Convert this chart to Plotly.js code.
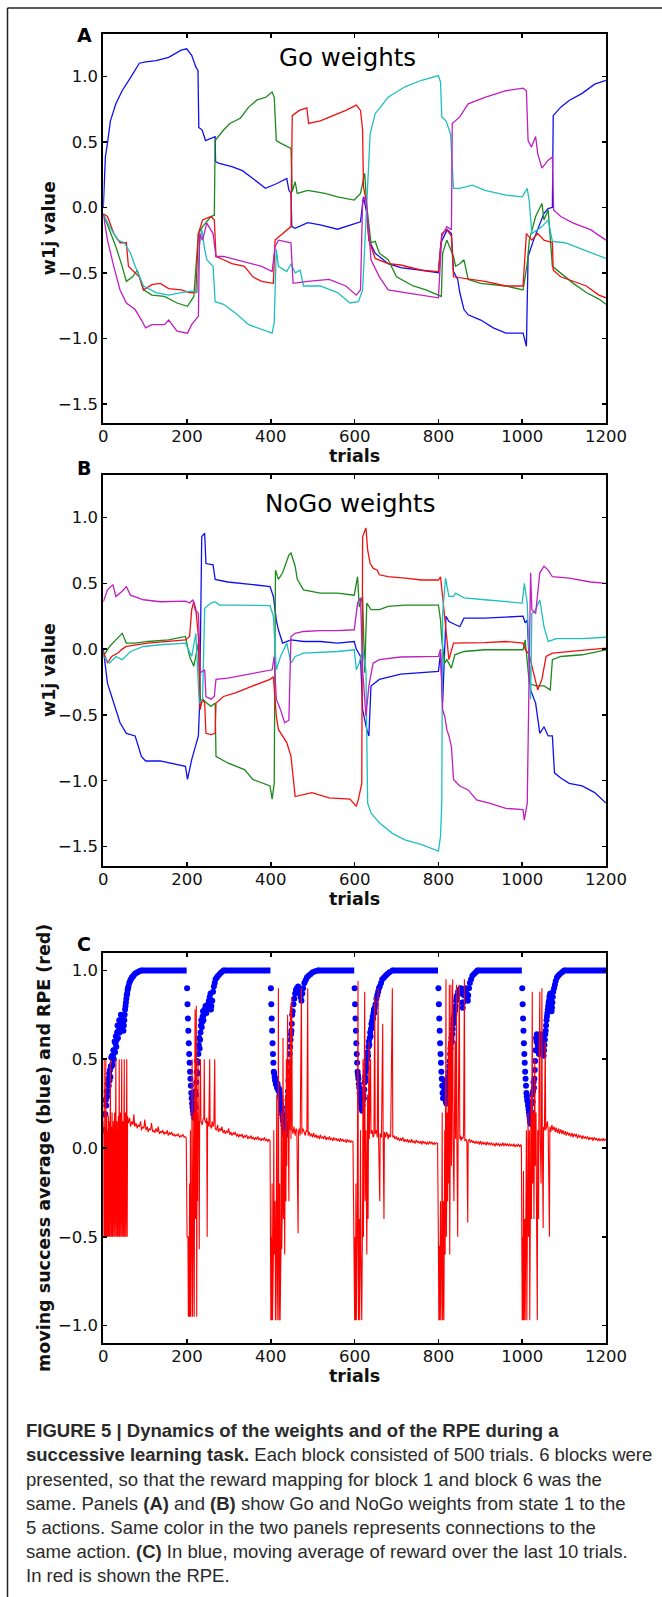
<!DOCTYPE html>
<html><head><meta charset="utf-8">
<script src="https://cdn.plot.ly/plotly-3.0.1.min.js"></script>
<style>html,body{margin:0;padding:0;background:#fff;} #chart{width:662px;height:1597px;}</style>
</head><body><div id="chart"></div>
<script>
// ---------- tick labels ----------
const trialTicks = [0, 200, 400, 600, 800, 1000, 1200];
const trialTickText = ['0', '200', '400', '600', '800', '1000', '1200'];
const weightTicks = [-1.5, -1, -0.5, 0, 0.5, 1];
const weightTickText = ['−1.5', '−1.0', '−0.5', '0.0', '0.5', '1.0'];
const rpeTicks = [-1, -0.5, 0, 0.5, 1];
const rpeTickText = ['−1.0', '−0.5', '0.0', '0.5', '1.0'];

// ---------- panel A : Go weights (trial, value) ----------
const goBlue = [[0,0],[5,0.385],[10,0.49],[17,0.66],[30,0.79],[45,0.89],[65,0.99],[86,1.10],[101,1.11],[126,1.12],[156,1.145],[186,1.20],[199,1.21],[211,1.16],[221,1.07],[226,1.045],[228,0.61],[236,0.59],[244,0.51],[267,0.54],[268,0.35],[277,0.335],[307,0.31],[332,0.28],[357,0.22],[387,0.145],[413,0.18],[438,0.22],[443,0.13],[448,0.11],[450,-0.147],[458,-0.16],[488,-0.117],[518,-0.134],[559,-0.167],[589,-0.134],[614,-0.11],[621,0.08],[629,-0.046],[634,-0.25],[649,-0.35],[680,-0.43],[710,-0.46],[760,-0.48],[800,-0.50],[806,-0.27],[821,-0.17],[831,-0.2],[836,-0.49],[846,-0.55],[851,-0.65],[861,-0.78],[871,-0.82],[901,-0.86],[931,-0.92],[961,-0.96],[1002,-0.96],[1010,-1.06],[1014,-0.375],[1027,-0.25],[1052,-0.046],[1062,-0.01],[1072,0.0],[1074,0.70],[1092,0.765],[1112,0.816],[1143,0.87],[1173,0.94],[1200,0.97]];
const goGreen = [[0,-0.05],[15,-0.17],[30,-0.30],[45,-0.45],[55,-0.565],[70,-0.53],[81,-0.48],[96,-0.63],[116,-0.67],[146,-0.68],[176,-0.73],[201,-0.755],[216,-0.68],[227,-0.2],[237,-0.147],[257,-0.07],[265,-0.06],[267,0.51],[287,0.59],[302,0.64],[327,0.68],[347,0.765],[367,0.82],[388,0.84],[403,0.88],[408,0.84],[413,0.51],[423,0.49],[448,0.45],[451,0.12],[458,0.195],[463,0.106],[488,0.13],[529,0.106],[559,0.08],[599,0.056],[614,0.106],[624,0.26],[629,0.005],[639,-0.27],[649,-0.26],[659,-0.35],[680,-0.40],[700,-0.53],[740,-0.60],[770,-0.63],[800,-0.67],[807,-0.68],[810,-0.35],[820,-0.25],[836,-0.375],[841,-0.45],[851,-0.43],[861,-0.40],[871,-0.55],[901,-0.58],[961,-0.60],[1002,-0.63],[1012,-0.43],[1017,-0.25],[1032,-0.07],[1047,0.03],[1052,-0.096],[1062,-0.02],[1072,-0.45],[1092,-0.50],[1122,-0.58],[1153,-0.65],[1183,-0.70],[1200,-0.74]];
const goRed = [[0,-0.05],[10,-0.07],[25,-0.2],[40,-0.27],[55,-0.27],[60,-0.45],[76,-0.50],[86,-0.53],[96,-0.63],[116,-0.59],[136,-0.58],[156,-0.62],[186,-0.63],[206,-0.65],[221,-0.65],[227,-0.2],[237,-0.096],[257,-0.07],[265,-0.096],[269,-0.375],[287,-0.40],[307,-0.43],[337,-0.45],[357,-0.53],[378,-0.565],[406,-0.58],[410,-0.25],[428,-0.2],[448,-0.147],[451,0.70],[468,0.74],[486,0.76],[490,0.64],[518,0.66],[549,0.70],[579,0.74],[604,0.78],[614,0.74],[619,0.59],[621,0.16],[627,0.056],[634,-0.25],[649,-0.39],[680,-0.43],[710,-0.44],[760,-0.48],[800,-0.49],[808,-0.2],[820,-0.17],[831,-0.22],[836,-0.53],[861,-0.54],[911,-0.565],[961,-0.60],[1002,-0.60],[1010,-0.2],[1023,-0.25],[1037,-0.2],[1052,-0.25],[1072,-0.27],[1074,-0.48],[1092,-0.53],[1122,-0.565],[1153,-0.60],[1183,-0.67],[1200,-0.69]];
const goCyan = [[0,-0.05],[15,-0.147],[35,-0.25],[50,-0.27],[65,-0.35],[76,-0.45],[96,-0.60],[126,-0.65],[156,-0.67],[186,-0.65],[211,-0.64],[224,-0.65],[229,-0.3],[235,-0.17],[242,-0.32],[247,-0.40],[262,-0.45],[267,-0.72],[287,-0.74],[317,-0.81],[347,-0.895],[378,-0.93],[403,-0.96],[408,-0.88],[413,-0.32],[418,-0.45],[438,-0.49],[448,-0.43],[458,-0.50],[470,-0.48],[478,-0.60],[518,-0.60],[559,-0.65],[589,-0.73],[609,-0.72],[619,-0.63],[629,0.005],[637,0.56],[649,0.715],[680,0.84],[720,0.92],[760,0.97],[800,1.006],[805,0.955],[808,0.69],[818,0.66],[829,0.56],[831,0.46],[836,0.145],[851,0.145],[881,0.17],[911,0.13],[961,0.094],[1000,0.08],[1012,0.145],[1017,0.043],[1023,-0.2],[1037,-0.17],[1047,-0.147],[1062,-0.096],[1072,-0.26],[1102,-0.27],[1143,-0.32],[1173,-0.36],[1200,-0.39]];
const goMagenta = [[0,-0.05],[10,-0.25],[25,-0.45],[40,-0.63],[55,-0.73],[76,-0.78],[91,-0.86],[101,-0.92],[116,-0.895],[146,-0.895],[156,-0.86],[176,-0.945],[201,-0.96],[211,-0.895],[227,-0.83],[230,-0.2],[237,-0.25],[247,-0.12],[262,-0.2],[269,-0.375],[287,-0.375],[317,-0.40],[347,-0.43],[378,-0.45],[403,-0.49],[410,-0.3],[418,-0.25],[448,-0.27],[453,-0.58],[488,-0.565],[539,-0.55],[579,-0.60],[604,-0.67],[614,-0.63],[619,0.056],[627,0.08],[631,-0.07],[639,-0.40],[659,-0.53],[680,-0.63],[720,-0.65],[760,-0.67],[800,-0.69],[808,-0.22],[820,-0.147],[831,-0.17],[833,0.64],[851,0.69],[871,0.79],[911,0.84],[961,0.89],[1002,0.91],[1010,0.89],[1014,0.51],[1022,0.46],[1032,0.54],[1037,0.41],[1047,0.30],[1062,0.36],[1072,0.385],[1075,-0.02],[1092,-0.07],[1122,-0.12],[1163,-0.17],[1200,-0.25]];

// ---------- panel B : NoGo weights ----------
const nogoBlue = [[0,0],[10,-0.26],[25,-0.41],[40,-0.56],[55,-0.64],[76,-0.66],[91,-0.815],[101,-0.85],[136,-0.85],[176,-0.88],[196,-0.89],[201,-0.99],[211,-0.84],[227,-0.66],[230,-0.41],[235,0.855],[242,0.88],[245,0.65],[262,0.64],[267,0.53],[297,0.51],[357,0.49],[398,0.475],[406,0.40],[413,0.22],[418,0.147],[428,0.046],[448,0.07],[478,0.058],[518,0.058],[559,0.046],[599,0.058],[604,0],[614,-0.056],[619,-0.46],[629,-0.61],[634,-0.66],[639,-0.28],[659,-0.23],[710,-0.19],[760,-0.18],[800,-0.17],[805,-0.03],[810,-0.41],[818,0.25],[825,0.21],[851,0.17],[861,0.235],[911,0.235],[1002,0.25],[1007,0.2],[1012,0.22],[1020,-0.31],[1032,-0.41],[1042,-0.64],[1052,-0.59],[1062,-0.66],[1072,-0.66],[1077,-0.94],[1092,-0.98],[1112,-1.02],[1143,-1.04],[1173,-1.09],[1200,-1.17]];
const nogoGreen = [[0,-0.056],[15,0.02],[30,0.07],[45,0.12],[55,0.046],[76,0.046],[106,0.058],[156,0.07],[196,0.096],[206,-0.056],[216,-0.13],[227,0.046],[232,-0.41],[237,-0.38],[247,-0.41],[257,-0.435],[267,-0.41],[269,-0.815],[297,-0.865],[337,-0.915],[357,-0.99],[398,-1.04],[403,-1.14],[408,-1.02],[411,0.60],[418,0.53],[428,0.58],[443,0.715],[448,0.73],[458,0.63],[463,0.53],[478,0.45],[518,0.425],[559,0.425],[599,0.41],[607,0.55],[611,0.32],[619,0.40],[624,-0.18],[629,0.35],[639,0.30],[659,0.30],[680,0.325],[720,0.335],[760,0.335],[800,0.335],[805,0.22],[808,0.07],[815,-0.106],[820,-0.08],[831,-0.144],[839,-0.043],[861,-0.018],[911,-0.005],[1002,-0.005],[1007,0.07],[1017,-0.26],[1032,-0.28],[1052,-0.28],[1067,-0.31],[1072,-0.08],[1092,-0.056],[1143,-0.043],[1200,-0.005]];
const nogoRed = [[0,-0.018],[10,-0.106],[20,-0.056],[35,-0.03],[45,0],[55,0.02],[106,0.046],[156,0.058],[196,0.07],[206,0.096],[211,0.30],[216,0.36],[221,0.30],[227,0.096],[231,-0.46],[237,-0.38],[242,-0.41],[245,-0.64],[257,-0.65],[267,-0.64],[269,-0.41],[287,-0.36],[317,-0.33],[357,-0.28],[398,-0.23],[406,-0.21],[408,-0.31],[413,-0.51],[418,-0.61],[428,-0.66],[438,-0.71],[448,-0.815],[453,-0.97],[458,-1.12],[498,-1.09],[539,-1.13],[589,-1.14],[604,-1.195],[609,-1.14],[617,-1.02],[619,0.855],[627,0.92],[631,0.755],[637,0.65],[644,0.615],[654,0.60],[659,0.565],[680,0.55],[720,0.54],[760,0.525],[800,0.525],[805,0.55],[810,0.40],[818,0.147],[825,-0.08],[836,0.046],[861,0.046],[911,0.05],[961,0.058],[1002,0.046],[1007,0],[1017,-0.043],[1027,-0.18],[1037,-0.31],[1047,-0.23],[1057,-0.056],[1072,-0.03],[1112,-0.018],[1200,0.008]];
const nogoCyan = [[0,-0.056],[15,-0.106],[30,-0.056],[45,-0.08],[65,-0.018],[96,0.02],[136,0.033],[196,0.046],[211,-0.056],[221,0.12],[229,-0.41],[237,-0.38],[242,0.31],[257,0.35],[267,0.36],[277,0.335],[317,0.335],[398,0.33],[406,0.25],[413,-0.157],[423,-0.056],[438,0.046],[448,-0.106],[458,-0.056],[478,-0.03],[518,-0.025],[559,-0.018],[599,-0.005],[604,-0.157],[611,-0.106],[619,-0.005],[627,-0.157],[631,-1.17],[639,-1.245],[659,-1.32],[690,-1.40],[720,-1.45],[760,-1.485],[800,-1.535],[805,-1.42],[808,-1.17],[810,0.27],[817,0.54],[825,0.40],[836,0.40],[841,0.425],[861,0.39],[911,0.375],[961,0.36],[1000,0.35],[1005,0.50],[1012,0.35],[1020,-0.38],[1023,0.27],[1032,0.30],[1042,0.375],[1052,0.17],[1062,0.058],[1082,0.08],[1143,0.08],[1200,0.09]];
const nogoMagenta = [[0,0.36],[10,0.45],[23,0.49],[30,0.40],[45,0.44],[55,0.475],[65,0.41],[96,0.375],[136,0.36],[196,0.365],[206,0.35],[214,0.375],[219,0.30],[227,0.27],[232,-0.18],[242,-0.157],[245,-0.36],[257,-0.38],[265,-0.36],[269,-0.23],[297,-0.22],[337,-0.195],[378,-0.17],[403,-0.157],[408,-0.056],[413,-0.38],[423,-0.46],[433,-0.56],[443,-0.54],[448,0.096],[458,0.12],[478,0.134],[518,0.14],[559,0.14],[599,0.147],[607,0.35],[614,0.39],[619,-0.157],[627,-0.51],[634,-0.28],[644,-0.106],[659,-0.08],[710,-0.06],[760,-0.056],[800,-0.056],[805,0],[810,-0.46],[815,-0.51],[820,-0.61],[825,-0.66],[831,-0.74],[836,-0.99],[851,-1.04],[871,-1.07],[891,-1.145],[921,-1.17],[961,-1.21],[1002,-1.22],[1005,-1.30],[1012,-1.17],[1017,0.096],[1020,0.58],[1023,0.30],[1032,0.27],[1042,0.58],[1052,0.63],[1062,0.60],[1072,0.55],[1112,0.54],[1163,0.51],[1200,0.50]];

// ---------- panel C : moving success average (blue dots) ----------
const successDrops = [
 [200,0.90],[201,0.81],[202,0.73],[203,0.66],[204,0.59],[205,0.53],[206,0.48],[207,0.43],[208,0.39],[209,0.35],[210,0.31],[211,0.28],[212,0.25],[213,0.23],[214,0.21],[215,0.19],
 [400,0.90],[401,0.81],[402,0.73],[403,0.66],[404,0.59],[405,0.53],[406,0.48],[407,0.43],
 [600,0.90],[601,0.81],[602,0.73],[603,0.66],[604,0.59],[605,0.53],[606,0.48],[607,0.43],
 [800,0.90],[801,0.81],[802,0.73],[803,0.66],[804,0.59],[805,0.53],[806,0.48],[807,0.43],[808,0.39],[809,0.35],[810,0.31],
 [1000,0.90],[1001,0.81],[1002,0.73],[1003,0.66],[1004,0.59],[1005,0.53],[1006,0.48],[1007,0.43],[1008,0.39],[1009,0.35],[1010,0.31]
];
const successRise1 = [[0,0.10],[1,0.19],[2,0.10],[3,0.19],[4,0.27],[5,0.19],[6,0.27],[7,0.24],[8,0.32],[9,0.29],[10,0.36],[11,0.32],[12,0.39],[13,0.35],[14,0.42],[15,0.38],[16,0.44],[17,0.40],[18,0.46],[19,0.51],[20,0.46],[21,0.52],[22,0.47],[23,0.52],[24,0.55],[25,0.50],[26,0.55],[27,0.60],[28,0.54],[29,0.59],[30,0.63],[31,0.57],[32,0.61],[33,0.65],[34,0.69],[35,0.62],[36,0.66],[37,0.69],[38,0.72],[39,0.65],[40,0.69],[41,0.72],[42,0.75],[43,0.68],[44,0.71],[45,0.74],[46,0.70],[47,0.73],[48,0.66],[49,0.69],[50,0.72],[51,0.75],[52,0.78],[53,0.80],[54,0.82],[55,0.84],[56,0.86],[57,0.87],[58,0.89],[59,0.90],[60,0.91],[62,0.93],[64,0.94],[66,0.95],[68,0.96],[70,0.965],[72,0.97],[75,0.98],[78,0.985],[82,0.99],[86,0.995],[90,1.0]];
const successRise2 = [[216,0.19],[217,0.17],[218,0.25],[219,0.32],[220,0.23],[221,0.30],[222,0.37],[223,0.43],[224,0.49],[225,0.42],[226,0.48],[227,0.53],[228,0.58],[229,0.62],[230,0.56],[231,0.61],[232,0.65],[233,0.69],[234,0.72],[235,0.68],[236,0.71],[237,0.74],[238,0.77],[239,0.72],[240,0.75],[242,0.78],[244,0.80],[246,0.76],[248,0.79],[250,0.81],[252,0.83],[254,0.85],[256,0.87],[257,0.78],[258,0.80],[260,0.83],[262,0.88],[264,0.91],[266,0.93],[268,0.95],[271,0.96],[274,0.97],[278,0.98],[282,0.99],[287,1.0]];
const successRise3 = [[408,0.42],[409,0.40],[410,0.38],[411,0.39],[412,0.36],[413,0.37],[414,0.35],[415,0.34],[416,0.36],[417,0.33],[418,0.34],[419,0.32],[420,0.33],[421,0.31],[422,0.29],[423,0.27],[424,0.25],[425,0.23],[426,0.21],[427,0.19],[428,0.17],[429,0.15],[430,0.13],[431,0.11],[432,0.10],[433,0.08],[434,0.07],[435,0.10],[436,0.12],[437,0.14],[438,0.18],[439,0.23],[440,0.27],[441,0.32],[442,0.38],[443,0.43],[444,0.48],[445,0.53],[446,0.57],[447,0.61],[448,0.64],[449,0.66],[450,0.70],[451,0.75],[452,0.77],[454,0.81],[456,0.84],[458,0.87],[460,0.89],[462,0.90],[465,0.91],[467,0.89],[469,0.87],[471,0.85],[473,0.83],[475,0.87],[477,0.90],[480,0.93],[483,0.945],[486,0.96],[490,0.97],[495,0.98],[500,0.99],[506,0.995],[512,1.0]];
const successRise4 = [[608,0.41],[609,0.39],[610,0.36],[611,0.34],[612,0.31],[613,0.29],[614,0.27],[615,0.25],[616,0.23],[617,0.22],[618,0.21],[619,0.24],[620,0.27],[621,0.30],[622,0.28],[623,0.33],[624,0.37],[625,0.40],[626,0.38],[627,0.43],[628,0.47],[629,0.45],[630,0.50],[631,0.54],[632,0.52],[633,0.57],[634,0.60],[635,0.58],[636,0.62],[637,0.65],[638,0.63],[639,0.67],[640,0.70],[641,0.68],[642,0.72],[643,0.74],[644,0.73],[645,0.76],[646,0.78],[647,0.76],[648,0.79],[650,0.81],[652,0.84],[654,0.86],[656,0.88],[658,0.90],[660,0.91],[663,0.93],[666,0.95],[670,0.96],[674,0.97],[678,0.98],[683,0.99],[690,1.0]];
const successRise5 = [[811,0.28],[812,0.35],[813,0.32],[814,0.38],[815,0.34],[816,0.31],[817,0.28],[818,0.26],[819,0.25],[820,0.30],[821,0.33],[822,0.36],[823,0.40],[824,0.38],[825,0.43],[826,0.46],[827,0.49],[828,0.53],[829,0.56],[830,0.59],[831,0.62],[832,0.60],[833,0.64],[834,0.67],[835,0.70],[836,0.73],[837,0.72],[838,0.75],[839,0.77],[840,0.78],[841,0.80],[842,0.83],[843,0.85],[845,0.86],[847,0.88],[849,0.89],[851,0.89],[853,0.90],[855,0.87],[857,0.82],[858,0.79],[859,0.82],[861,0.86],[863,0.89],[865,0.90],[867,0.87],[869,0.84],[870,0.83],[871,0.86],[873,0.90],[875,0.93],[878,0.95],[881,0.97],[885,0.98],[889,0.99],[893,1.0]];
const successRise6 = [[1011,0.29],[1012,0.27],[1013,0.26],[1014,0.24],[1015,0.22],[1016,0.20],[1017,0.18],[1018,0.16],[1019,0.145],[1020,0.14],[1021,0.135],[1022,0.20],[1023,0.25],[1024,0.30],[1025,0.26],[1026,0.32],[1027,0.37],[1028,0.34],[1029,0.39],[1030,0.44],[1031,0.49],[1032,0.55],[1033,0.62],[1034,0.60],[1035,0.64],[1036,0.62],[1037,0.58],[1038,0.56],[1039,0.54],[1040,0.53],[1041,0.55],[1042,0.58],[1043,0.61],[1044,0.64],[1045,0.62],[1046,0.60],[1047,0.59],[1048,0.58],[1049,0.55],[1050,0.53],[1051,0.52],[1052,0.55],[1053,0.58],[1054,0.61],[1055,0.64],[1056,0.66],[1057,0.69],[1058,0.72],[1059,0.74],[1060,0.76],[1061,0.78],[1062,0.80],[1063,0.82],[1064,0.83],[1065,0.85],[1066,0.86],[1067,0.87],[1068,0.84],[1069,0.80],[1070,0.77],[1071,0.79],[1072,0.82],[1073,0.85],[1074,0.88],[1076,0.90],[1078,0.92],[1080,0.94],[1083,0.96],[1086,0.97],[1090,0.98],[1095,0.99],[1100,1.0]];
// stretches where the moving average stays at 1.0 : [first trial, last trial]
const successPlateaus = [[90,199],[287,399],[512,599],[690,799],[893,999],[1100,1200]];

// ---------- panel C : RPE (red) ----------
const rpeBlock1 = [[0,0.15],[1,-0.5],[2,0.5],[3,-0.5],[4,0.12],[5,-0.5],[6,0.5],[7,-0.5],[8,0.2],[9,-0.5],[10,0.1],[11,-0.5],[12,0.18],[13,-0.5],[14,0.15],[15,-0.5],[17,0.5],[18,-0.5],[19,0.12],[20,-0.5],[21,0.2],[22,-0.5],[24,0.15],[25,-0.5],[27,0.2],[28,-0.5],[30,0.5],[31,-0.5],[33,0.15],[34,-0.5],[36,0.18],[37,-0.5],[38,0.5],[39,-0.5],[41,0.2],[42,-0.5],[44,0.5],[45,-0.5],[47,0.15],[48,-0.5],[50,0.5],[51,-0.5],[53,0.2],[54,-0.5],[56,0.5],[57,-0.5],[58,0.18],
 [60,0.14],[63,0.17],[65,0.12],[68,0.15],[71,0.13],[73,0.19],[75,0.12],[78,0.14],[81,0.11],[83,0.13],[86,0.12],[89,0.15],[91,0.1],[94,0.12],[97,0.11],[99,0.16],[102,0.1],[105,0.12],[107,0.09],[110,0.11],[113,0.1],[115,0.14],[118,0.09],[121,0.1],[123,0.085],[126,0.11],[129,0.09],[131,0.12],[134,0.08],[137,0.095],[139,0.085],[142,0.1],[145,0.075],[147,0.09],[150,0.08],[153,0.1],[155,0.07],[158,0.085],[161,0.075],[163,0.09],[166,0.07],[169,0.08],[171,0.065],[174,0.075],[177,0.07],[179,0.08],[182,0.06],[185,0.07],[187,0.065],[190,0.075],[193,0.06],[195,0.065],[198,0.058]];
const rpeBlock2 = [[200,-0.5],[202,-0.5],[203,-0.95],[204,-0.5],[205,-0.95],[206,-0.2],[207,-0.95],[208,0.1],[209,-0.95],[211,-0.3],[212,0.5],[213,-0.95],[215,-0.2],[216,0.2],[217,-0.95],[219,0.78],[220,-0.4],[221,-0.1],[222,0.8],[223,-0.95],[224,0.2],[225,-0.3],[226,0.5],[227,0.1],[228,0.15],[229,-0.57],[230,0.15],[232,0.5],[233,0.15],[236,0.13],[238,0.16],[240,0.17],[241,0.5],[242,0.16],[245,0.14],[247,0.17],[248,-0.5],[249,0.15],[252,0.12],[254,0.5],[255,0.13],[258,0.11],[260,0.15],[262,0.12],[264,0.14],[266,0.5],[267,0.11],
 [270,0.1],[273,0.13],[275,0.09],[278,0.11],[281,0.095],[283,0.12],[286,0.085],[289,0.1],[291,0.08],[294,0.095],[297,0.085],[299,0.11],[302,0.075],[305,0.09],[307,0.07],[310,0.085],[313,0.075],[315,0.09],[318,0.065],[321,0.08],[323,0.06],[326,0.075],[329,0.065],[331,0.08],[334,0.055],[337,0.07],[339,0.06],[342,0.075],[345,0.05],[347,0.065],[350,0.055],[353,0.07],[355,0.05],[358,0.06],[361,0.045],[363,0.06],[366,0.05],[369,0.065],[371,0.045],[374,0.055],[377,0.04],[379,0.055],[382,0.045],[385,0.06],[387,0.04],[390,0.05],[393,0.035],[395,0.05],[398,0.04]];
const rpeBlock3 = [[400,-0.97],[401,-0.5],[402,-0.97],[403,-0.2],[404,-0.97],[406,-0.6],[407,0.1],[408,-0.6],[410,-0.3],[411,-0.97],[413,-0.4],[414,0.3],[415,-0.97],[417,-0.5],[418,0.9],[419,-0.97],[421,-0.2],[422,-0.97],[424,-0.6],[425,0.2],[426,-0.57],[428,-0.2],[429,0.62],[430,-0.4],[432,0.1],[433,-0.6],[435,0.3],[436,-0.3],[437,0.5],[438,-0.1],[440,0.75],[441,0.1],[443,-0.3],[444,0.5],[445,0.1],[447,0.8],[448,0.05],[450,0.85],[451,0.1],[453,0.08],[455,0.12],[458,0.07],[460,0.11],[462,0.1],[465,-0.48],[466,0.09],[468,0.11],[470,0.07],[473,0.9],[474,0.08],[476,0.11],[478,0.1],[480,0.08],[482,0.07],[484,0.1],[486,0.09],[488,0.9],[489,0.07],
 [492,0.09],[494,0.065],[497,0.08],[500,0.06],[502,0.085],[505,0.06],[508,0.075],[510,0.055],[513,0.07],[516,0.05],[518,0.075],[521,0.055],[524,0.065],[526,0.05],[529,0.07],[532,0.045],[534,0.06],[537,0.05],[540,0.065],[542,0.045],[545,0.055],[548,0.04],[550,0.06],[553,0.045],[556,0.055],[558,0.04],[561,0.05],[564,0.035],[566,0.055],[569,0.04],[572,0.05],[574,0.035],[577,0.045],[580,0.03],[582,0.05],[585,0.035],[588,0.045],[590,0.03],[593,0.04],[596,0.035]];
const rpeBlock4 = [[600,-0.97],[601,-0.5],[602,-0.97],[603,-0.2],[604,-0.97],[606,-0.5],[607,0.2],[608,0.94],[609,-0.97],[611,-0.4],[612,-0.97],[614,0.1],[615,-0.6],[617,-0.97],[619,-0.3],[620,0.5],[621,-0.5],[623,0.2],[624,0.88],[625,-0.3],[627,0.1],[629,-0.6],[631,0.3],[632,-0.4],[634,0.6],[635,0.05],[638,0.5],[639,0.08],[642,0.1],[644,0.06],[646,0.07],[648,0.85],[649,0.08],[652,0.1],[654,0.06],[656,0.9],[657,0.07],[660,-0.3],[661,0.08],[664,0.06],[667,0.7],[668,0.07],[670,-0.4],[671,0.09],[674,0.06],[676,0.09],[678,0.08],[680,0.05],[682,0.08],[684,0.06],[686,0.07],[690,0.9],[691,0.06],
 [694,0.07],[696,0.05],[699,0.065],[702,0.045],[704,0.06],[707,0.04],[710,0.055],[712,0.04],[715,0.06],[718,0.035],[720,0.05],[723,0.035],[726,0.05],[728,0.03],[731,0.045],[734,0.03],[736,0.05],[739,0.03],[742,0.04],[744,0.025],[747,0.045],[750,0.03],[752,0.04],[755,0.025],[758,0.04],[760,0.02],[763,0.04],[766,0.025],[768,0.035],[771,0.02],[774,0.035],[776,0.02],[779,0.035],[782,0.025],[784,0.035],[787,0.02],[790,0.03],[792,0.02],[795,0.03],[798,0.025]];
const rpeBlock5 = [[800,-0.55],[801,-0.97],[802,-0.55],[803,-0.97],[805,-0.3],[806,-0.97],[808,-0.5],[809,0.2],[810,-0.97],[812,-0.3],[813,-0.97],[815,0.1],[816,-0.6],[818,0.95],[819,-0.5],[821,0.2],[822,-0.3],[824,0.6],[825,-0.2],[826,0.92],[827,-0.6],[829,0.3],[830,0.92],[831,-0.1],[833,0.5],[834,0.95],[835,0.05],[837,-0.3],[838,0.1],[840,0.6],[841,0.05],[843,0.92],[844,0.06],[846,-0.5],[847,0.05],[850,0.92],[851,0.05],[853,0.07],[854,0.04],[856,0.06],[858,0.05],[860,0.07],[862,0.95],[863,0.04],[866,0.05],[868,0.03],[870,-0.42],[871,0.04],
 [874,0.05],[876,0.03],[879,0.045],[882,0.03],[884,0.04],[887,0.025],[890,0.04],[892,0.025],[895,0.035],[898,0.02],[900,0.04],[903,0.02],[906,0.035],[908,0.02],[911,0.03],[914,0.015],[916,0.035],[919,0.02],[922,0.03],[924,0.015],[927,0.03],[930,0.015],[932,0.025],[935,0.01],[938,0.03],[940,0.015],[943,0.025],[946,0.01],[948,0.025],[951,0.015],[954,0.03],[956,0.01],[959,0.025],[962,0.015],[964,0.025],[967,0.01],[970,0.025],[972,0.01],[975,0.02],[978,0.01],[980,0.025],[983,0.005],[986,0.02],[988,0.01],[991,0.02],[994,0.005],[996,0.02],[998,0.01]];
const rpeBlock6 = [[1000,-0.97],[1001,-0.5],[1002,-0.97],[1003,-0.13],[1004,-0.97],[1006,-0.4],[1007,-0.97],[1009,-0.2],[1010,0.1],[1011,-0.97],[1013,-0.4],[1014,0.2],[1015,-0.5],[1017,0.1],[1018,-0.97],[1020,-0.3],[1021,0.3],[1022,-0.4],[1024,0.88],[1025,-0.2],[1027,0.2],[1028,-0.4],[1030,0.5],[1031,-0.1],[1033,0.2],[1034,-0.3],[1036,-0.97],[1037,0.1],[1039,-0.4],[1040,0.3],[1042,0.88],[1043,0.05],[1045,-0.2],[1046,0.12],[1047,0.9],[1048,0.08],[1050,-0.45],[1051,0.12],[1053,0.1],[1055,0.6],[1056,0.1],[1058,0.12],[1060,0.15],[1062,0.1],[1065,-0.5],[1066,0.12],
 [1068,0.09],[1071,0.13],[1073,0.1],[1076,0.12],[1079,0.09],[1081,0.115],[1084,0.085],[1087,0.11],[1089,0.08],[1092,0.105],[1095,0.08],[1097,0.1],[1100,0.075],[1103,0.095],[1105,0.07],[1108,0.09],[1111,0.07],[1113,0.085],[1116,0.065],[1119,0.085],[1121,0.06],[1124,0.08],[1127,0.065],[1129,0.08],[1132,0.055],[1135,0.075],[1137,0.06],[1140,0.07],[1143,0.05],[1145,0.07],[1148,0.055],[1151,0.065],[1153,0.05],[1156,0.065],[1159,0.045],[1161,0.06],[1164,0.05],[1167,0.06],[1169,0.04],[1172,0.06],[1175,0.045],[1177,0.055],[1180,0.04],[1183,0.055],[1185,0.04],[1188,0.05],[1191,0.04],[1193,0.055],[1196,0.04],[1198,0.05],[1200,0.045]];

// ---------- texts ----------
const panelLetters = ['A', 'B', 'C'];
const panelTitles = ['Go weights', 'NoGo weights'];
const yTitles = ['w1j value', 'w1j value', 'moving success average (blue) and RPE (red)'];
const xTitle = 'trials';
const captionLines = [
 '<b>FIGURE 5 | Dynamics of the weights and of the RPE during a</b>',
 '<b>successive learning task.</b> Each block consisted of 500 trials. 6 blocks were',
 'presented, so that the reward mapping for block 1 and block 6 was the',
 'same. Panels <b>(A)</b> and <b>(B)</b> show Go and NoGo weights from state 1 to the',
 '5 actions. Same color in the two panels represents connections to the',
 'same action. <b>(C)</b> In blue, moving average of reward over the last 10 trials.',
 'In red is shown the RPE.'
];

// ---------- geometry ----------
const W = 662, H = 1597;
const px = x => x / W;
const py = y => 1 - y / H;
const plotL = 103.3, plotR = 606;
const panels = [{top: 34, bottom: 423.3}, {top: 475, bottom: 866}, {top: 952.7, bottom: 1343.3}];
const actionColors = ['#1010f0', '#1c8a1c', '#f01010', '#1fbfbf', '#bf1fbf'];

const xs = a => a.map(p => p[0]);
const ys = a => a.map(p => p[1]);
function joinBlocks(blocks) {
  const x = [], y = [];
  blocks.forEach((b, i) => { if (i) { x.push(null); y.push(null); } b.forEach(p => { x.push(p[0]); y.push(p[1]); }); });
  return {x, y};
}

const traces = [];
const goSeries = [goBlue, goGreen, goRed, goCyan, goMagenta];
const nogoSeries = [nogoBlue, nogoGreen, nogoRed, nogoCyan, nogoMagenta];
goSeries.forEach((s, i) => traces.push({x: xs(s), y: ys(s), xaxis: 'x', yaxis: 'y', type: 'scatter', mode: 'lines',
  line: {color: actionColors[i], width: 1.3}, hoverinfo: 'skip'}));
nogoSeries.forEach((s, i) => traces.push({x: xs(s), y: ys(s), xaxis: 'x2', yaxis: 'y2', type: 'scatter', mode: 'lines',
  line: {color: actionColors[i], width: 1.3}, hoverinfo: 'skip'}));

const plat = {x: [], y: []};
successPlateaus.forEach((p, i) => { if (i) { plat.x.push(null); plat.y.push(null); } plat.x.push(p[0], p[1]); plat.y.push(1, 1); });
traces.push({x: plat.x, y: plat.y, xaxis: 'x3', yaxis: 'y3', type: 'scatter', mode: 'lines',
  line: {color: '#0000ff', width: 6}, hoverinfo: 'skip'});
const riseAll = joinBlocks([successRise1, successRise2, successRise3, successRise4, successRise5, successRise6]);
traces.push({x: riseAll.x, y: riseAll.y, xaxis: 'x3', yaxis: 'y3', type: 'scatter', mode: 'markers',
  marker: {color: '#0000ff', size: 6, line: {width: 0}}, hoverinfo: 'skip'});
traces.push({x: xs(successDrops), y: ys(successDrops), xaxis: 'x3', yaxis: 'y3', type: 'scatter', mode: 'markers',
  marker: {color: '#0000ff', size: 6, line: {width: 0}}, hoverinfo: 'skip'});
const rpe = [].concat(rpeBlock1, rpeBlock2, rpeBlock3, rpeBlock4, rpeBlock5, rpeBlock6);
traces.push({x: xs(rpe), y: ys(rpe), xaxis: 'x3', yaxis: 'y3', type: 'scatter', mode: 'lines',
  line: {color: '#ff0000', width: 1.1}, hoverinfo: 'skip'});

const tickFont = {family: 'DejaVu Sans', size: 16.5, color: '#111'};
function xAxis(anchor) {
  return {domain: [px(plotL), px(plotR)], anchor: anchor, range: [0, 1200], tickmode: 'array',
    tickvals: trialTicks, ticktext: trialTickText, ticks: 'inside', ticklen: 4, tickwidth: 1.5, tickcolor: '#000',
    showline: true, linecolor: '#000', linewidth: 2, mirror: 'allticks', showgrid: false, zeroline: false,
    tickfont: tickFont, ticklabelstandoff: -3, fixedrange: true};
}
function yAxis(anchor, p, range, tv, tt) {
  return {domain: [py(p.bottom), py(p.top)], anchor: anchor, range: range, tickmode: 'array',
    tickvals: tv, ticktext: tt, ticks: 'inside', ticklen: 4, tickwidth: 1.5, tickcolor: '#000',
    showline: true, linecolor: '#000', linewidth: 2, mirror: 'allticks', showgrid: false, zeroline: false,
    tickfont: tickFont, ticklabelstandoff: 0, fixedrange: true};
}

const ann = [];
const letterY = [35, 467.5, 943.5];
panels.forEach((p, i) => {
  ann.push({text: '<b>' + panelLetters[i] + '</b>', x: px(75), y: py(letterY[i]), xref: 'paper', yref: 'paper',
    xanchor: 'left', yanchor: 'middle', showarrow: false, font: {family: 'DejaVu Sans', size: 19, color: '#000'}});
  ann.push({text: '<b>' + xTitle + '</b>', x: px((plotL + plotR) / 2), y: py(p.bottom + 33), xref: 'paper', yref: 'paper',
    xanchor: 'center', yanchor: 'middle', showarrow: false, font: {family: 'DejaVu Sans', size: 17.5, color: '#111'}});
  ann.push({text: '<b>' + yTitles[i] + '</b>', x: px(i < 2 ? 48.5 : 44), y: py((p.top + p.bottom) / 2), xref: 'paper', yref: 'paper',
    xanchor: 'center', yanchor: 'middle', textangle: -90, showarrow: false, font: {family: 'DejaVu Sans', size: 17.5, color: '#111'}});
});
ann.push({text: panelTitles[0], x: px(348), y: py(57), xref: 'paper', yref: 'paper', xanchor: 'center', yanchor: 'middle',
  showarrow: false, font: {family: 'DejaVu Sans', size: 24.5, color: '#000'}});
ann.push({text: panelTitles[1], x: px(350), y: py(503), xref: 'paper', yref: 'paper', xanchor: 'center', yanchor: 'middle',
  showarrow: false, font: {family: 'DejaVu Sans', size: 24.5, color: '#000'}});
captionLines.forEach((t, i) => {
  ann.push({text: t, x: px(24), y: py(1436.7 + i * 24.15 - 6), xref: 'paper', yref: 'paper', xanchor: 'left', yanchor: 'middle',
    showarrow: false, font: {family: 'Liberation Sans, Arial, sans-serif', size: 18.5, color: '#2a2a2a'}});
});

const shapes = [
  {type: 'line', xref: 'paper', yref: 'paper', x0: px(7.5), x1: 1, y0: py(8), y1: py(8), line: {color: '#222', width: 1.5}},
  {type: 'line', xref: 'paper', yref: 'paper', x0: px(7.5), x1: px(7.5), y0: py(8), y1: 0, line: {color: '#222', width: 1.5}}
];

const layout = {
  width: W, height: H, margin: {l: 0, r: 0, t: 0, b: 0}, showlegend: false,
  paper_bgcolor: '#fff', plot_bgcolor: '#fff', font: {family: 'DejaVu Sans', color: '#111'},
  xaxis: xAxis('y'), yaxis: yAxis('x', panels[0], [-1.648, 1.323], weightTicks, weightTickText),
  xaxis2: xAxis('y2'), yaxis2: yAxis('x2', panels[1], [-1.648, 1.323], weightTicks, weightTickText),
  xaxis3: xAxis('y3'), yaxis3: yAxis('x3', panels[2], [-1.1, 1.1], rpeTicks, rpeTickText),
  annotations: ann, shapes: shapes
};
Plotly.newPlot('chart', traces, layout, {staticPlot: true, displayModeBar: false});
</script></body></html>
